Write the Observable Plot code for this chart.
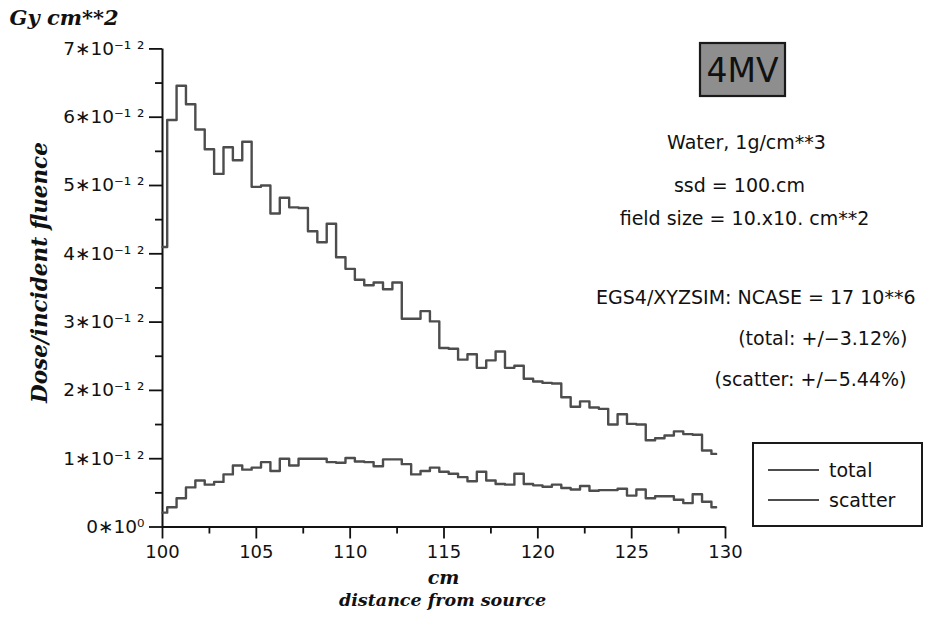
<!DOCTYPE html>
<html>
<head>
<meta charset="utf-8">
<script src="https://cdn.jsdelivr.net/npm/d3@7"></script>
<script src="https://cdn.jsdelivr.net/npm/@observablehq/plot@0.6"></script>
<style>
  html, body { margin: 0; padding: 0; background: #fff; }
  #chart { width: 931px; height: 635px; }
</style>
</head>
<body>
<div id="chart"></div>
<script>
// depth (cm from source), bins every 0.5 cm
const depth = [100,100.5,101,101.5,102,102.5,103,103.5,104,104.5,
  105,105.5,106,106.5,107,107.5,108,108.5,109,109.5,
  110,110.5,111,111.5,112,112.5,113,113.5,114,114.5,
  115,115.5,116,116.5,117,117.5,118,118.5,119,119.5,
  120,120.5,121,121.5,122,122.5,123,123.5,124,124.5,
  125,125.5,126,126.5,127,127.5,128,128.5,129,129.5];
// Dose / incident fluence, in units of 1e-12 Gy cm**2
const total = [4.10,5.96,6.46,6.19,5.82,5.53,5.17,5.56,5.37,5.64,
  4.98,5.00,4.59,4.82,4.68,4.67,4.33,4.17,4.44,3.95,
  3.78,3.62,3.54,3.58,3.48,3.58,3.05,3.05,3.16,3.01,
  2.62,2.61,2.45,2.53,2.33,2.44,2.57,2.33,2.36,2.17,
  2.13,2.11,2.10,1.90,1.76,1.84,1.75,1.73,1.50,1.65,
  1.51,1.50,1.27,1.30,1.34,1.40,1.36,1.35,1.12,1.07];
const scatter = [0.21,0.29,0.42,0.58,0.68,0.62,0.66,0.77,0.90,0.84,
  0.87,0.95,0.82,1.00,0.90,1.00,1.00,1.00,0.95,0.94,
  1.01,0.96,0.95,0.89,0.99,0.99,0.92,0.77,0.82,0.87,
  0.81,0.78,0.73,0.67,0.81,0.68,0.63,0.62,0.78,0.63,
  0.61,0.59,0.62,0.57,0.55,0.60,0.53,0.54,0.54,0.56,
  0.46,0.55,0.42,0.45,0.45,0.40,0.35,0.48,0.37,0.29];

const yTicks = [0,1,2,3,4,5,6,7];
const yTickLabels = ["0∗10⁰","1∗10⁻¹ ²","2∗10⁻¹ ²","3∗10⁻¹ ²","4∗10⁻¹ ²","5∗10⁻¹ ²","6∗10⁻¹ ²","7∗10⁻¹ ²"];
const yMinor = [0.5,1.5,2.5,3.5,4.5,5.5,6.5];
const xTicks = [100,105,110,115,120,125,130];
const xMinor = [102.5,107.5,112.5,117.5,122.5,127.5];

const seriesNames = ["total","scatter"];
const titleText = "4MV";
const infoLines = ["Water, 1g/cm**3","ssd = 100.cm","field size = 10.x10. cm**2"];
const runLines = ["EGS4/XYZSIM: NCASE = 17 10**6","(total: +/−3.12%)","(scatter: +/−5.44%)"];
const yUnit = "Gy cm**2";
const yLabel = "Dose/incident fluence";
const xUnit = "cm";
const xLabel = "distance from source";

const W = 931, H = 635;
const mL = 162, mR = 206, mT = 48.4, mB = 108.5;
const sans = "DejaVu Sans, sans-serif";
const serif = "DejaVu Serif, serif";
const lineColor = "#4d4d4d";

// helper: text placed in absolute pixels via frame anchor offsets
function label(str, x, y, opts) {
  return Plot.text([str], Object.assign({
    text: d => d, frameAnchor: "top-left", dx: x - mL, dy: y - mT,
    textAnchor: "middle", lineAnchor: "middle",
    fontFamily: sans, fontSize: 19, fill: "#111"
  }, opts));
}

const chart = Plot.plot({
  width: W, height: H,
  marginLeft: mL, marginRight: mR, marginTop: mT, marginBottom: mB,
  x: {domain: [100, 130]},
  y: {domain: [0, 7]},
  style: {fontFamily: sans, background: "white", color: "#111", overflow: "visible"},
  marks: [
    Plot.axisY({ticks: yTicks, tickSize: 13, tickPadding: 5, tickFormat: (d) => yTickLabels[yTicks.indexOf(d)],
      fontSize: 18.5, label: null, strokeWidth: 1.8, stroke: "#111"}),
    Plot.axisY({ticks: yMinor, tickSize: 7, text: null, label: null, strokeWidth: 1.8, stroke: "#111"}),
    Plot.axisX({ticks: xTicks, tickSize: 12, tickPadding: 6, fontSize: 18, label: null, strokeWidth: 1.8, stroke: "#111"}),
    Plot.axisX({ticks: xMinor, tickSize: 7, text: null, label: null, strokeWidth: 1.8, stroke: "#111"}),
    Plot.ruleX([100], {stroke: "#111", strokeWidth: 2}),
    Plot.ruleY([0], {stroke: "#111", strokeWidth: 2}),
    Plot.line(depth, {x: depth, y: total, curve: "step", stroke: lineColor, strokeWidth: 2.4}),
    Plot.line(depth, {x: depth, y: scatter, curve: "step", stroke: lineColor, strokeWidth: 2.4}),
    // axis titles
    label(yUnit, 9, 18, {textAnchor: "start", fontFamily: serif, fontWeight: "bold", fontStyle: "italic", fontSize: 21, letterSpacing: "1.5px"}),
    label(yLabel, 40, 272, {rotate: -90, fontFamily: serif, fontWeight: "bold", fontStyle: "italic", fontSize: 21.5, letterSpacing: "0.3px"}),
    label(xUnit, 443, 577, {fontFamily: serif, fontWeight: "bold", fontStyle: "italic", fontSize: 19}),
    label(xLabel, 442, 600, {fontFamily: serif, fontWeight: "bold", fontStyle: "italic", fontSize: 17.5}),
    // annotations
    label(infoLines[0], 746, 142),
    label(infoLines[1], 739, 185),
    label(infoLines[2], 744, 218),
    label(runLines[0], 915, 297, {textAnchor: "end"}),
    label(runLines[1], 907, 338, {textAnchor: "end"}),
    label(runLines[2], 906, 379, {textAnchor: "end"})
  ]
});

const svg = d3.select(chart);
// 4MV box
svg.append("rect").attr("x", 700).attr("y", 43).attr("width", 85).attr("height", 53)
  .attr("fill", "#8e8e8e").attr("stroke", "#1a1a1a").attr("stroke-width", 2.2);
svg.append("text").attr("x", 742.5).attr("y", 82).attr("text-anchor", "middle")
  .attr("font-family", sans).attr("font-size", 33).attr("fill", "#111").text(titleText);

// legend
const lg = svg.append("g");
lg.append("rect").attr("x", 753).attr("y", 443).attr("width", 169).attr("height", 83)
  .attr("fill", "white").attr("stroke", "#1a1a1a").attr("stroke-width", 2);
const legendY = [470, 500];
seriesNames.forEach((name, i) => {
  lg.append("line").attr("x1", 768).attr("x2", 819).attr("y1", legendY[i]).attr("y2", legendY[i])
    .attr("stroke", lineColor).attr("stroke-width", 2);
  lg.append("text").attr("x", 829).attr("y", legendY[i] + 7).attr("text-anchor", "start")
    .attr("font-family", sans).attr("font-size", 19).attr("fill", "#111").text(name);
});

document.getElementById("chart").appendChild(chart);
</script>
</body>
</html>
